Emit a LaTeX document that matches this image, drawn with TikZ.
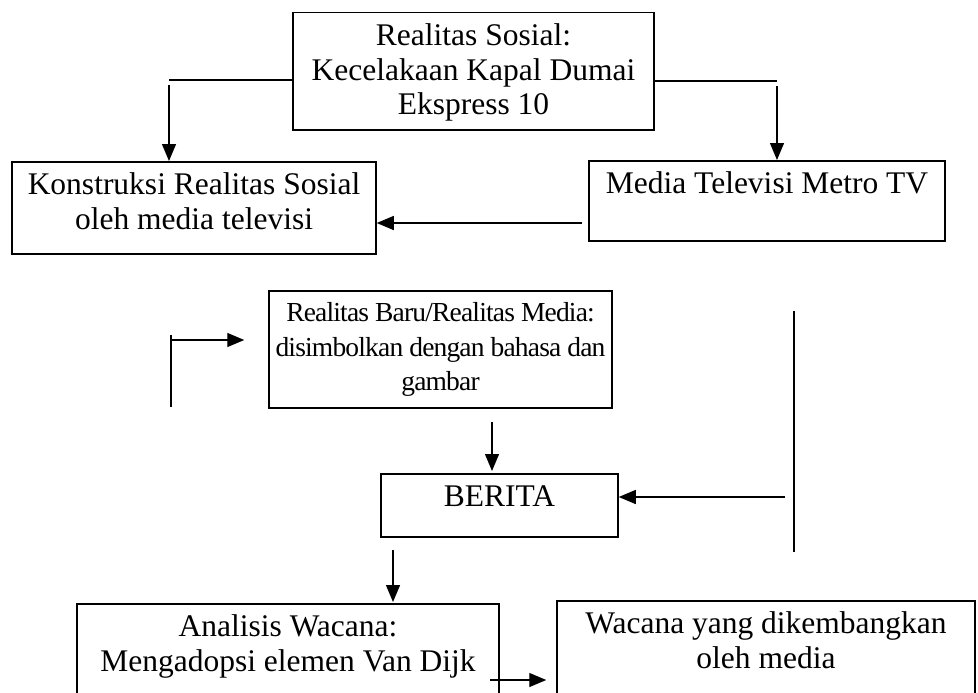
\documentclass[tikz,border=0pt]{standalone}
\usepackage{fontspec}
\setmainfont{Liberation Serif}
\newfontfamily\rapat[LetterSpace=-3]{Liberation Serif}
\usetikzlibrary{arrows.meta}

\tikzset{
  kotak/.style={draw, line width=1.5pt, inner sep=0pt, anchor=north, align=flush center,
    text height=33pt, font=\fontsize{31.5}{34.5}\selectfont},
  rapat/.style={font=\rapat\fontsize{27.5}{34.5}\selectfont, text height=31pt},
  garis/.style={line width=1.3pt},
  panah/.style={line width=1.3pt, -{Triangle[length=17pt,width=14pt]}}
}

\begin{document}
\begin{tikzpicture}[x=1pt, y=-1pt]
      \useasboundingbox (0,0) rectangle (978,693);
      \clip (0,0) rectangle (978,693);

      % kotak-kotak
      \node[kotak, text width=361pt, text depth=84pt] (sosial) at (473.5,12)
        {Realitas Sosial:\\Kecelakaan Kapal Dumai\\Ekspress 10};
      \node[kotak, text width=364pt, text depth=59pt] (konstruksi) at (194,161)
        {Konstruksi Realitas Sosial\\oleh media televisi};
      \node[kotak, text width=356pt, text depth=47pt] (metro) at (767,160)
        {Media Televisi Metro TV};
      \node[kotak, rapat, text width=343pt, text depth=86pt] (baru) at (440.5,290)
        {Realitas Baru/Realitas Media:\\disimbolkan dengan bahasa dan\\gambar};
      \node[kotak, text width=237pt, text depth=30pt] (berita) at (499.5,473)
        {BERITA};
      \node[kotak, text width=422pt, text depth=87pt] (analisis) at (288,603)
        {Analisis Wacana:\\Mengadopsi elemen Van Dijk};
      \node[kotak, text width=418pt, text depth=87pt] (wacana) at (766,600)
        {Wacana yang dikembangkan\\oleh media};

      % titik bebas
      \coordinate (kiri) at (169,80);
      \coordinate (kanan) at (777,81);
      \coordinate (balik) at (582,223);
      \coordinate (siku) at (171,340);
      \coordinate (tegak) at (794,311);
      \coordinate (masuk) at (785,497);
      \coordinate (tengah) at (492,422);
      \coordinate (bawah) at (393,550);
      \coordinate (akhir) at (490,680);

      % garis dan panah
      \draw[garis] (sosial.west |- kiri) -- (kiri);
      \draw[panah] ([yshift=-5pt]kiri) -- (kiri |- konstruksi.north);
      \draw[garis] (sosial.east |- kanan) -- (kanan);
      \draw[panah] ([yshift=-5pt]kanan) -- (kanan |- metro.north);
      \draw[panah] (balik) -- (konstruksi.east |- balik);

      \draw[garis] ([yshift=5pt]siku) -- ([yshift=-67pt]siku);
      \draw[panah] (siku) -- ([xshift=-24pt]siku -| baru.west);
      \draw[panah] (tengah) -- ([yshift=2pt]tengah |- berita.north);

      \draw[garis] (tegak) -- ([yshift=-241pt]tegak);
      \draw[panah] (masuk) -- (berita.east |- masuk);

      \draw[panah] (bawah) -- ([yshift=1pt]bawah |- analisis.north);
      \draw[panah] (akhir) -- ([xshift=-10pt]akhir -| wacana.west);
\end{tikzpicture}
\end{document}
